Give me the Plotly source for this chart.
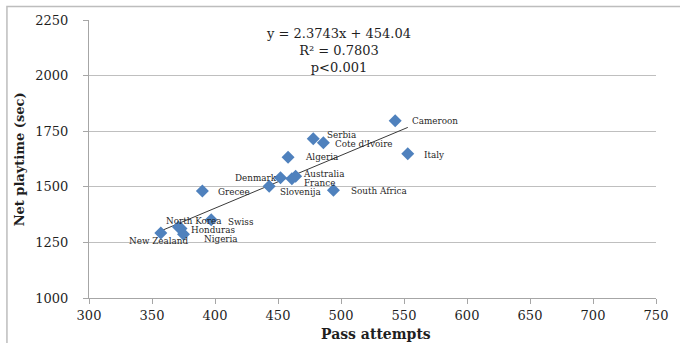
import plotly.graph_objects as go

# ---- data ----
countries = ["Cameroon", "Italy", "Serbia", "Cote d'Ivoire", "Algeria", "Denmark",
             "Australia", "France", "Slovenija", "Grecee", "South Africa", "Swiss",
             "North Korea", "Honduras", "Nigeria", "New Zealand"]
pass_attempts = [543, 553, 478, 486, 458, 452, 464, 461, 443, 390, 494, 397, 371, 373, 375, 357]
net_playtime = [1797, 1649, 1716, 1698, 1633, 1541, 1547, 1536, 1503, 1481, 1484, 1352, 1319, 1312, 1287, 1292]

slope = 2.3743
intercept = 454.04
eq_lines = ["y = 2.3743x + 454.04", "R² = 0.7803", "p<0.001"]

x_ticks = [300, 350, 400, 450, 500, 550, 600, 650, 700, 750]
y_ticks = [1000, 1250, 1500, 1750, 2000, 2250]

# ---- label placement (pixel offsets, anchor) ----
label_style = {
    "Cameroon": (15, 0, "left"),
    "Italy": (14, -1, "left"),
    "Serbia": (12, 4, "left"),
    "Cote d'Ivoire": (10, -1, "left"),
    "Algeria": (15, 0, "left"),
    "Denmark": (-2, 0, "right"),
    "Australia": (5, 2, "left"),
    "France": (10, -4, "left"),
    "Slovenija": (9, -6, "left"),
    "Grecee": (14, -1, "left"),
    "South Africa": (16, -1, "left"),
    "Swiss": (15, -2, "left"),
    "North Korea": (-14, 6, "left"),
    "Honduras": (8, -1, "left"),
    "Nigeria": (18, -5, "left"),
    "New Zealand": (-34, -8, "left"),
}

SERIF = "DejaVu Serif"
TXT = "#1f1f1f"
GRID = "#BFBFBF"

fig = go.Figure()

# trendline over the data range
xmin, xmax = min(pass_attempts), max(pass_attempts)
fig.add_trace(go.Scatter(
    x=[xmin, xmax], y=[slope * xmin + intercept, slope * xmax + intercept],
    mode="lines", line=dict(color="#3a3a3a", width=1), hoverinfo="skip", showlegend=False))

fig.add_trace(go.Scatter(
    x=pass_attempts, y=net_playtime, mode="markers",
    marker=dict(symbol="diamond", size=10, color="#4F81BD", line=dict(width=0)),
    showlegend=False))

annotations = []
for c, x, y in zip(countries, pass_attempts, net_playtime):
    dx, dy, anchor = label_style[c]
    annotations.append(dict(x=x, y=y, text=c, showarrow=False, xanchor=anchor, yanchor="middle",
                            xshift=dx, yshift=dy, font=dict(family=SERIF, size=8.8, color=TXT)))

annotations.append(dict(x=498, y=2113, text="<br>".join(eq_lines), showarrow=False,
                        xanchor="center", yanchor="middle", align="center",
                        font=dict(family=SERIF, size=13, color=TXT)))

# axis titles
annotations.append(dict(xref="paper", yref="paper", x=(378 - 89) / 570, y=-(334 - 298) / 278,
                        text="<b>Pass attempts</b>", showarrow=False, xanchor="center", yanchor="middle",
                        font=dict(family=SERIF, size=14, color=TXT)))
annotations.append(dict(xref="paper", yref="paper", x=-(89 - 19) / 570, y=0.5,
                        text="<b>Net playtime (sec)</b>", showarrow=False, textangle=-90,
                        xanchor="center", yanchor="middle",
                        font=dict(family=SERIF, size=13, color=TXT)))

fig.update_layout(
    width=680, height=343,
    margin=dict(l=89, r=21, t=20, b=45, pad=0),
    paper_bgcolor="white", plot_bgcolor="white",
    annotations=annotations,
    shapes=[dict(type="rect", xref="paper", yref="paper",
                 x0=-(89 - 6.5) / 570, x1=1.2, y0=-0.3, y1=1 + (20 - 6.5) / 278,
                 line=dict(color="#BDBDBD", width=1.5), layer="below")],
)

fig.update_xaxes(range=[300, 750], tickvals=x_ticks, ticktext=[str(v) for v in x_ticks],
                 showgrid=False, zeroline=False, showline=True, linecolor="#A6A6A6", linewidth=1,
                 ticks="outside", ticklen=5, tickcolor="#A6A6A6",
                 tickfont=dict(family=SERIF, size=13, color=TXT))
fig.update_yaxes(range=[1000, 2250], tickvals=y_ticks, ticktext=[str(v) for v in y_ticks],
                 showgrid=True, gridcolor=GRID, gridwidth=1, zeroline=False,
                 showline=True, linecolor="#A6A6A6", linewidth=1,
                 ticks="outside", ticklen=5, tickcolor="#A6A6A6", ticklabelstandoff=12,
                 tickfont=dict(family=SERIF, size=13, color=TXT))

fig.write_html("out.html")
